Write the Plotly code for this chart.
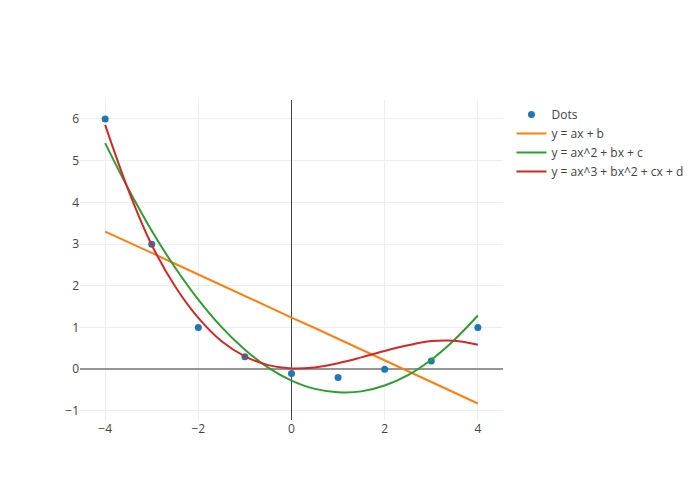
import plotly.graph_objects as go

# Scatter data
dot_x = [-4, -3, -2, -1, 0, 1, 2, 3, 4]
dot_y = [6, 3, 1, 0.3, -0.1, -0.2, 0, 0.2, 1]

curve_x = [-4, -3.5, -3, -2.5, -2, -1.5, -1, -0.5, 0, 0.5, 1, 1.5, 2, 2.5, 3, 3.5, 4]
lin_y = [3.30, 3.05, 2.79, 2.53, 2.27, 2.02, 1.76, 1.50, 1.24, 0.99, 0.73, 0.47, 0.21, -0.04, -0.30, -0.56, -0.82]
quad_y = [5.42, 4.32, 3.32, 2.44, 1.67, 1.01, 0.47, 0.04, -0.27, -0.47, -0.55, -0.53, -0.39, -0.14, 0.23, 0.71, 1.29]
cub_y = [5.86, 4.29, 2.98, 1.99, 1.23, 0.67, 0.31, 0.10, 0.02, 0.045, 0.145, 0.285, 0.44, 0.575, 0.675, 0.685, 0.59]

names = ["Dots", "y = ax + b", "y = ax^2 + bx + c", "y = ax^3 + bx^2 + cx + d"]

fig = go.Figure()
fig.add_trace(go.Scatter(x=dot_x, y=dot_y, mode="markers", name=names[0],
                         marker=dict(color="#1f77b4", size=7)))
fig.add_trace(go.Scatter(x=curve_x, y=lin_y, mode="lines", name=names[1],
                         line=dict(color="#ff7f0e", width=2)))
fig.add_trace(go.Scatter(x=curve_x, y=quad_y, mode="lines", name=names[2],
                         line=dict(color="#2ca02c", width=2, shape="spline")))
fig.add_trace(go.Scatter(x=curve_x, y=cub_y, mode="lines", name=names[3],
                         line=dict(color="#d62728", width=2, shape="spline")))

fig.update_layout(
    template="none",
    width=700, height=500,
    margin=dict(l=80, r=80, t=100, b=80),
    font=dict(family="Open Sans", size=12, color="#444"),
    paper_bgcolor="white", plot_bgcolor="white",
    legend=dict(x=1.02, y=1, xanchor="left", yanchor="top"),
    xaxis=dict(range=[-4.54, 4.54], dtick=2, tick0=0, gridcolor="#eee",
               zeroline=True, zerolinecolor="#444", zerolinewidth=1,
               showline=False, ticks=""),
    yaxis=dict(range=[-1.216, 6.455], dtick=1, tick0=0, gridcolor="#eee",
               zeroline=True, zerolinecolor="#969696", zerolinewidth=2,
               showline=False, ticks=""),
)

fig.write_html("out.html")
